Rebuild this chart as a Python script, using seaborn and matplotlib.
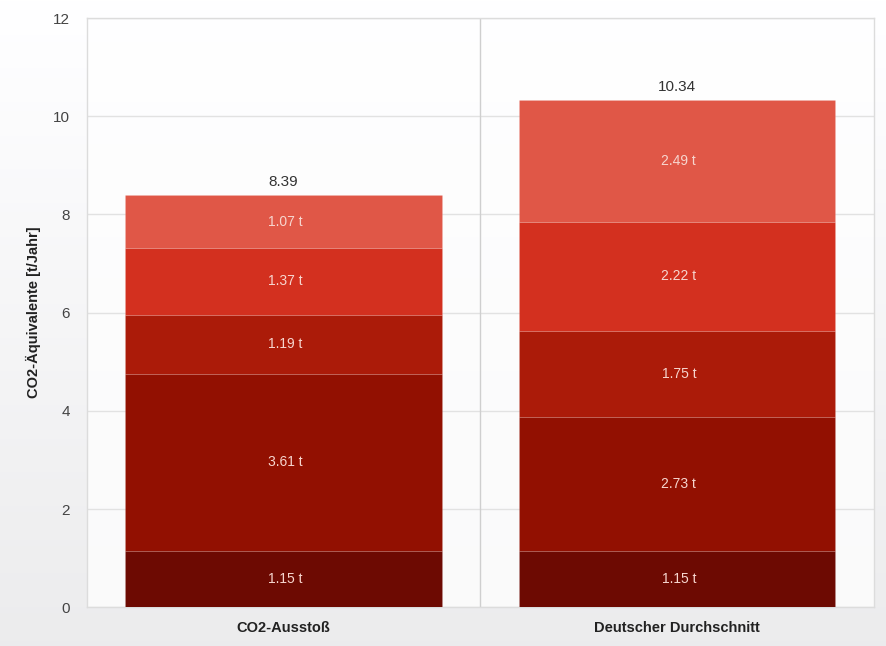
import numpy as np
import pandas as pd
import matplotlib
matplotlib.use("Agg")
import matplotlib.pyplot as plt
import seaborn as sns

# data
categories = ["CO2-Ausstoß", "Deutscher Durchschnitt"]
# segments from bottom to top, one value per category
seg1 = [1.15, 1.15]
seg2 = [3.61, 2.73]
seg3 = [1.19, 1.75]
seg4 = [1.37, 2.22]
seg5 = [1.07, 2.49]
totals = [8.39, 10.34]
segments = [seg1, seg2, seg3, seg4, seg5]
seg_colors = ["#6d0a02", "#921001", "#ab1b09", "#d3301f", "#e05747"]

sns.set_style("white")
plt.rcParams["font.family"] = ["Liberation Sans", "DejaVu Sans"]

fig = plt.figure(figsize=(8.86, 6.46), dpi=100)

# soft white->gray background like the original widget
bg = fig.add_axes([0, 0, 1, 1], zorder=-10)
grad = np.linspace(1.0, 0.925, 256).reshape(-1, 1)
bg.imshow(np.dstack([grad, grad, grad * 1.005]).clip(0, 1),
          aspect="auto", extent=[0, 1, 0, 1])
bg.axis("off")

ax = fig.add_axes([0.098, 0.060, 0.888, 0.912])
ax.set_facecolor((1, 1, 1, 0.75))

bottom = np.zeros(len(categories))
for vals, col in zip(segments, seg_colors):
    df = pd.DataFrame({"cat": categories, "val": vals})
    sns.barplot(data=df, x="cat", y="val", bottom=bottom, color=col,
                width=0.805, saturation=1, ax=ax, zorder=3,
                edgecolor=(1, 1, 1, 0.08), linewidth=0.8)
    for i, v in enumerate(vals):
        ax.text(i + 0.005, bottom[i] + v / 2, f"{v:.2f} t", ha="center", va="center",
                color="#f7d6cf", fontsize=10, zorder=5)
    bottom = bottom + np.array(vals)

for i, t in enumerate(totals):
    ax.text(i, t + 0.12, f"{t:.2f}", ha="center", va="bottom",
            color="#333333", fontsize=11, zorder=5)

ax.set_xlim(-0.5, 1.5)
ax.set_ylim(0, 12)
ax.set_yticks(range(0, 13, 2))
ax.yaxis.grid(True, color="#e2e2e2", linewidth=1, zorder=0)
ax.axvline(0.5, color="#cfcfcf", linewidth=1, zorder=1)

for s in ax.spines.values():
    s.set_color("#dcdcdc")
    s.set_linewidth(1)

ax.tick_params(axis="y", length=0, labelsize=11, labelcolor="#444444", pad=12)
ax.tick_params(axis="x", length=0, labelsize=10.5, labelcolor="#222222", pad=10)
for lab in ax.get_xticklabels():
    lab.set_fontweight("bold")

ax.set_xlabel("")
ax.set_ylabel("CO2-Äquivalente [t/Jahr]", fontsize=10.5, fontweight="bold",
              color="#222222", labelpad=9)

fig.savefig("out.png", dpi=100)
